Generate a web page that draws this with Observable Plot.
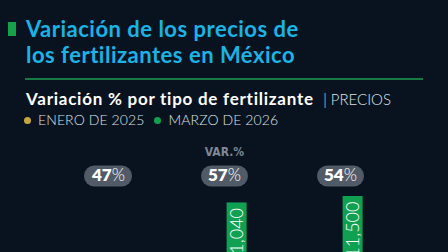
<!DOCTYPE html>
<html>
<head>
<meta charset="utf-8">
<script src="https://cdn.jsdelivr.net/npm/d3@7"></script>
<script src="https://cdn.jsdelivr.net/npm/@observablehq/plot@0.6"></script>
<style>
  html, body { margin: 0; padding: 0; width: 448px; height: 252px; overflow: hidden; background: #08131f; }
  body { position: relative; font-family: Lato, "Noto Sans", sans-serif; }
  .abs { position: absolute; white-space: nowrap; }
  #mark { left: 8px; top: 22px; width: 8px; height: 14px; background: #16a04a; }
  #title { left: 26px; top: 15.5px; font-weight: 700; font-size: 22px; line-height: 26px; letter-spacing: 0.5px; color: #1ab3e6; }
  #rule { left: 25px; top: 77.5px; width: 398px; height: 2px; background: #177a45; }
  #sub { left: 26px; top: 89.4px; font-size: 17px; line-height: 20px; color: #ffffff; }
  #sub b { font-weight: 700; letter-spacing: 0.75px; }
  #sub span { font-weight: 300; color: #dfe3e8; letter-spacing: 0; margin-left: 5px; font-size: 15px; }
  #legend { left: 24px; top: 110.5px; font-size: 14px; line-height: 18px; font-weight: 300; letter-spacing: 0.1px; color: #dfe3e8; }
  .dot { display: inline-block; width: 7px; height: 7px; border-radius: 50%; margin-right: 7px; vertical-align: 1px; }
  #chart { left: 0; top: 140px; }
</style>
</head>
<body>
<div class="abs" id="mark"></div>
<div class="abs" id="title">Variación de los precios de<br>los fertilizantes en México</div>
<div class="abs" id="rule"></div>
<div class="abs" id="sub"><b>Variación % por tipo de fertilizante</b> <span>| PRECIOS</span></div>
<div class="abs" id="legend"></div>
<div class="abs" id="chart"></div>
<script>
// Data (first group's bars lie below the visible crop)
const tipos = ["Urea", "Sulfato de amonio", "Fosfato diamónico"];
const series = ["ENERO DE 2025", "MARZO DE 2026"];
const enero2025 = [4420, 7030, 7470];
const marzo2026 = [6500, 11040, 11500];
const variacion = [47, 57, 54];
const colores = ["#c9a63a", "#10a052"];

const rows = tipos.flatMap((t, i) => [
  {tipo: t, serie: series[0], valor: enero2025[i], variacion: variacion[i]},
  {tipo: t, serie: series[1], valor: marzo2026[i], variacion: variacion[i]}
]);

// legend
const legend = document.getElementById("legend");
series.forEach((s, i) => {
  const dot = document.createElement("span");
  dot.className = "dot";
  dot.style.background = colores[i];
  legend.appendChild(dot);
  legend.appendChild(document.createTextNode(s));
  if (i < series.length - 1) {
    const sp = document.createElement("span");
    sp.style.display = "inline-block";
    sp.style.width = "10px";
    legend.appendChild(sp);
  }
});

const fmt = d3.format(",");
const ML = 49.4;

const chart = Plot.plot({
  width: 448,
  height: 226,
  marginTop: 49,
  marginBottom: 9,
  marginLeft: ML,
  marginRight: 50.1,
  style: {background: "transparent", fontFamily: "Lato, sans-serif", overflow: "visible"},
  facet: {data: rows, x: "tipo"},
  fx: {domain: tipos, padding: 0, axis: null, label: null},
  x: {domain: series, range: [ML + 35.05, ML + 81.15], paddingInner: 0.2, paddingOuter: 0, axis: null},
  y: {domain: [0, 12000], axis: null},
  color: {domain: series, range: colores},
  marks: [
    Plot.barY(rows, {x: "serie", y: "valor", fill: "serie"}),
    Plot.text(rows, {
      x: "serie", y: "valor", text: d => fmt(d.valor),
      rotate: -90, textAnchor: "end", lineAnchor: "middle", dy: 5,
      fill: "white", fontSize: 18, fontWeight: 300, letterSpacing: 1.5
    }),
    Plot.text(rows, {
      filter: d => d.serie === series[1] && d.tipo === tipos[1],
      frameAnchor: "top", dy: -37.5, text: () => "VAR.%",
      fill: "#7e8896", fontSize: 12, fontWeight: 700,
      fontFamily: "DejaVu Sans Condensed", lineAnchor: "middle"
    }),
    Plot.text(rows, {
      filter: d => d.serie === series[1],
      frameAnchor: "top", dy: -13.5, text: d => d.variacion + "%",
      fill: "white", fontSize: 17, lineAnchor: "middle"
    })
  ]
});
document.getElementById("chart").appendChild(chart);

// pills: bold number + light %, on rounded grey background
const NS = "http://www.w3.org/2000/svg";
Array.from(chart.querySelectorAll("text"))
  .filter(t => /^\d+%$/.test(t.textContent.trim()))
  .forEach(t => {
    const s = t.textContent.trim();
    const num = s.replace("%", "");
    t.textContent = "";
    const a = document.createElementNS(NS, "tspan");
    a.setAttribute("font-weight", "800");
    a.textContent = num;
    const b = document.createElementNS(NS, "tspan");
    b.setAttribute("font-weight", "300");
    b.textContent = "%";
    t.appendChild(a); t.appendChild(b);
    const bb = t.getBBox();
    const r = document.createElementNS(NS, "rect");
    const padX = 7, h = 21;
    r.setAttribute("x", bb.x - padX);
    r.setAttribute("y", -h / 2);
    r.setAttribute("width", bb.width + 2 * padX);
    r.setAttribute("height", h);
    r.setAttribute("rx", h / 2);
    r.setAttribute("fill", "#515b67");
    if (t.getAttribute("transform")) r.setAttribute("transform", t.getAttribute("transform"));
    t.parentNode.insertBefore(r, t);
  });
</script>
</body>
</html>
